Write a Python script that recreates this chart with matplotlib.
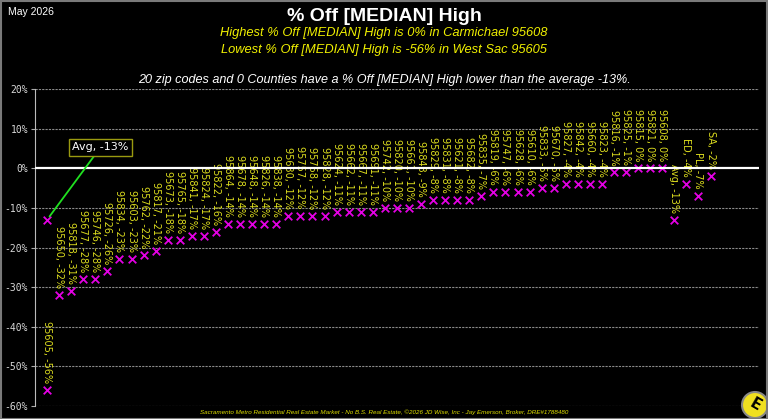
import matplotlib
matplotlib.use("Agg")
import matplotlib.pyplot as plt
from matplotlib.patches import Ellipse, Rectangle

# chart data
labels = ["95605", "95650", "95818", "95677", "95746", "95726", "95834", "95603",
          "95762", "95817", "95673", "95765", "95841", "95824", "95822", "95864",
          "95678", "95648", "95826", "95838", "95630", "95757", "95758", "95828",
          "95624", "95662", "95667", "95691", "95742", "95820", "95661", "95843",
          "95829", "95831", "95621", "95682", "95835", "95819", "95747", "95628",
          "95610", "95833", "95670", "95827", "95842", "95660", "95823", "95816",
          "95825", "95815", "95821", "95608", "Avg", "ED", "PL", "SA"]
pct_off = [-56, -32, -31, -28, -28, -26, -23, -23,
           -22, -21, -18, -18, -17, -17, -16, -14,
           -14, -14, -14, -14, -12, -12, -12, -12,
           -11, -11, -11, -11, -10, -10, -10, -9,
           -8, -8, -8, -8, -7, -6, -6, -6,
           -6, -5, -5, -4, -4, -4, -4, -1,
           -1, 0, 0, 0, -13, -4, -7, -2]
avg_value = -13
y_ticks = [20, 10, 0, -10, -20, -30, -40, -50, -60]

title = "% Off [MEDIAN] High"
sub1 = "Highest % Off [MEDIAN] High is 0% in Carmichael 95608"
sub2 = "Lowest % Off [MEDIAN] High is -56% in West Sac 95605"
sub3 = "20 zip codes and 0 Counties have a % Off [MEDIAN] High lower than the average -13%."
footer = ("Sacramento Metro Residential Real Estate Market - No B.S. Real Estate, "
          "\u00a92026 JD Wise, Inc - Jay Emerson, Broker, DRE#1788480")

narrow = ["Liberation Sans Narrow", "Liberation Sans", "DejaVu Sans"]

fig = plt.figure(figsize=(7.68, 4.19), dpi=100, facecolor="black")
ax = fig.add_axes([0.0456, 0.031, 0.9424, 0.7566])
ax.set_facecolor("black")

xs = list(range(len(labels)))
ax.scatter(xs, pct_off, marker="x", color="#e400e4", s=30, linewidths=1.3, zorder=4)
ax.scatter([0], [avg_value], marker="x", color="#e400e4", s=30, linewidths=1.3, zorder=4)

for x, lab, v in zip(xs, labels, pct_off):
    ax.annotate("%s, %d%%" % (lab, v), (x, v), xytext=(0, 5), textcoords="offset points",
                rotation=-90, ha="center", va="bottom", color="#dcdc1e",
                fontsize=7, zorder=3)

ax.annotate("Avg, %d%%" % avg_value, (0, avg_value), xytext=(2.1, 5.3),
            ha="left", va="center", color="white", fontsize=8,
            bbox=dict(boxstyle="square,pad=0.3", fc="black", ec="#9a9a10", lw=1),
            arrowprops=dict(arrowstyle="-", color="#20e020", lw=1.3,
                            shrinkA=0, shrinkB=3), zorder=6)

ax.set_xlim(-1, 59)
ax.set_ylim(-60, 20)
ax.set_xticks([])
ax.set_yticks(y_ticks)
ax.set_yticklabels(["%d%%" % t for t in y_ticks], family="DejaVu Sans Mono",
                   fontsize=7, color="#d8d8d8")
ax.tick_params(axis="y", length=3, color="#aaaaaa", pad=2)
for t in y_ticks:
    if t == 0:
        ax.axhline(t, color="white", lw=1.6, zorder=5)
    else:
        ax.axhline(t, color="#8a8a8a", lw=0.8, ls=(0, (2, 1)), zorder=1)
for side in ["top", "right", "bottom"]:
    ax.spines[side].set_visible(False)
ax.spines["left"].set_color("#bbbbbb")

fig.text(0.011, 0.972, "May 2026", color="white", fontsize=7.5, family=narrow, va="center")
fig.text(0.5, 0.96, title, color="white", fontsize=14, family=narrow, weight="bold",
         ha="center", va="center")
fig.text(0.5, 0.922, sub1, color="#f0f000", fontsize=9.3, family=narrow, style="italic",
         ha="center", va="center")
fig.text(0.5, 0.88, sub2, color="#f0f000", fontsize=9.3, family=narrow, style="italic",
         ha="center", va="center")
fig.text(0.5, 0.808, sub3, color="white", fontsize=9.1, family=narrow, style="italic",
         ha="center", va="center")
fig.text(0.5, 0.017, footer, color="#e0e000", fontsize=4.5, family=narrow, style="italic",
         ha="center", va="center")

# logo in the corner
fig.patches.append(Ellipse((755 / 768, 1 - 405 / 419), 26 / 768, 26 / 419,
                           transform=fig.transFigure, fc="#f0e020", ec="#888888", lw=1.5))
fig.text(755 / 768, 1 - 405 / 419, "E", color="black", fontsize=11, weight="bold",
         rotation=-30, ha="center", va="center")

# thin grey frame around the image
fig.patches.append(Rectangle((0.001, 0.001), 0.998, 0.997, transform=fig.transFigure,
                             fill=False, ec="#7a7a7a", lw=1.5))

fig.savefig("out.png", dpi=100, facecolor="black")
